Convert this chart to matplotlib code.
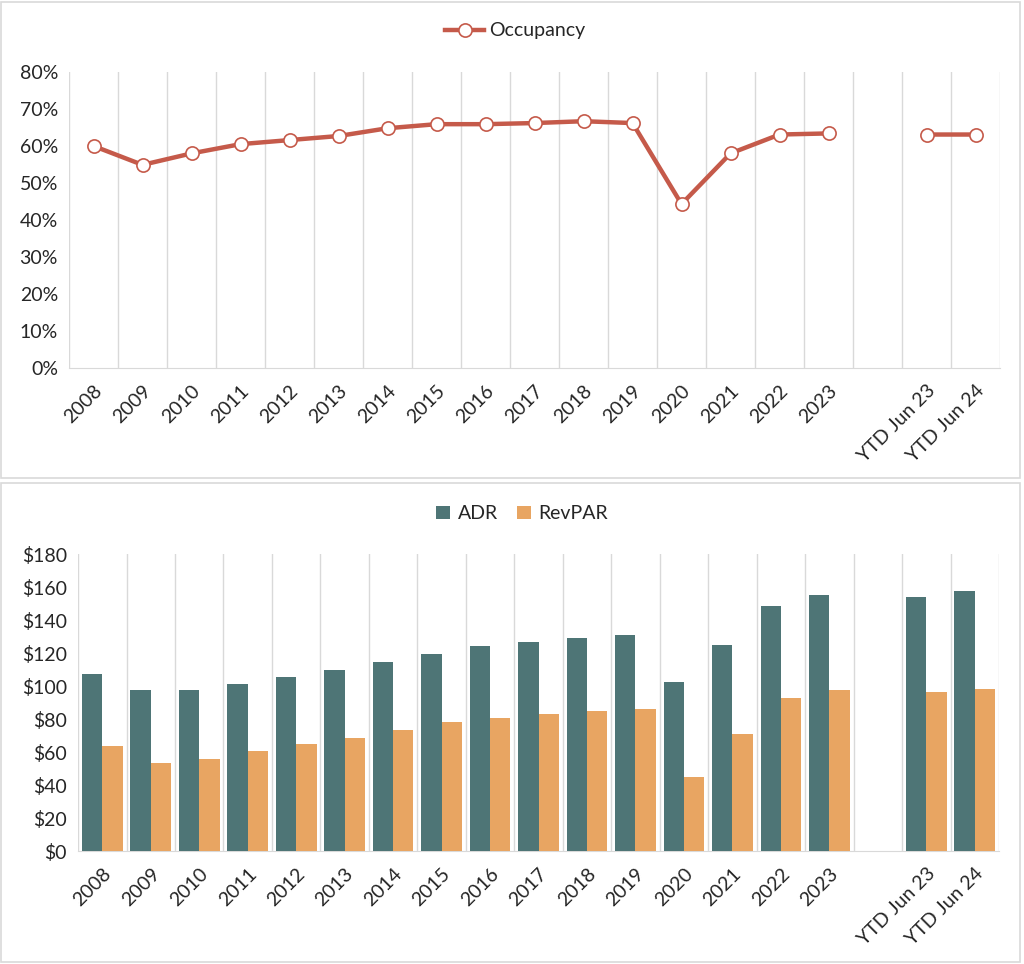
import matplotlib.pyplot as plt
import matplotlib.patches as mpatches
import numpy as np
from matplotlib.ticker import FuncFormatter, MultipleLocator, FixedLocator

plt.rcParams['font.family'] = ['Lato', 'DejaVu Sans']

# categories (blank slot between 2023 and the YTD columns)
labels = ['2008', '2009', '2010', '2011', '2012', '2013', '2014', '2015', '2016',
          '2017', '2018', '2019', '2020', '2021', '2022', '2023', '',
          'YTD Jun 23', 'YTD Jun 24']

occupancy = [60.0, 54.9, 58.0, 60.5, 61.6, 62.7, 64.8, 65.9, 65.9,
             66.2, 66.7, 66.2, 44.3, 58.0, 63.1, 63.4, np.nan,
             63.1, 63.1]

adr = [107.2, 97.5, 97.5, 101.1, 105.4, 109.8, 114.3, 119.5, 124.0,
       126.4, 129.2, 130.8, 102.5, 124.8, 148.6, 154.9, np.nan,
       153.9, 157.3]

revpar = [63.9, 53.4, 56.0, 60.5, 64.7, 68.4, 73.6, 77.9, 80.7,
          83.1, 85.1, 85.9, 44.7, 71.0, 92.8, 97.3, np.nan,
          96.5, 98.3]

line_color = '#C55A4A'
adr_color = '#4E7576'
rev_color = '#E8A562'
grid_color = '#D9D9D9'
text_color = '#262626'

fig = plt.figure(figsize=(10.24, 9.64), dpi=100)

# panel borders
for y0, h in [(0.504, 0.494), (0.002, 0.497)]:
    fig.patches.append(mpatches.Rectangle((0.001, y0), 0.995, h, transform=fig.transFigure,
                                          fill=False, edgecolor=grid_color, linewidth=1.2))

x = np.arange(len(labels))


def style_axis(ax):
    ax.set_xlim(-0.5, len(labels) - 0.5)
    ax.xaxis.set_major_locator(FixedLocator(x))
    ax.xaxis.set_minor_locator(FixedLocator(np.arange(-0.5, len(labels), 1.0)))
    ax.grid(which='minor', axis='x', color=grid_color, linewidth=1)
    ax.set_xticklabels(labels, rotation=45, ha='right', rotation_mode='anchor',
                       fontsize=14, color=text_color)
    ax.tick_params(axis='x', which='both', length=0, pad=10)
    ax.tick_params(axis='y', length=0, labelsize=14, labelcolor=text_color, pad=8)
    for s in ['top', 'left', 'right']:
        ax.spines[s].set_visible(False)
    ax.spines['bottom'].set_color(grid_color)
    ax.set_axisbelow(True)


# top: occupancy
ax1 = fig.add_axes([0.0674, 0.6183, 0.9092, 0.307])
ax1.plot(x, occupancy, color=line_color, linewidth=3.2, marker='o', markersize=9.5,
         markerfacecolor='white', markeredgecolor=line_color, markeredgewidth=1.2,
         label='Occupancy', zorder=3)
ax1.set_ylim(0, 80)
ax1.yaxis.set_major_locator(MultipleLocator(10))
ax1.yaxis.set_major_formatter(FuncFormatter(lambda v, p: f'{v:.0f}%'))
style_axis(ax1)
leg1 = ax1.legend(loc='center', frameon=False, fontsize=14, handlelength=2.0,
                  handletextpad=0.25, labelcolor=text_color)
leg1.set_bbox_to_anchor((0.503, 0.968), transform=fig.transFigure)

# bottom: ADR / RevPAR
ax2 = fig.add_axes([0.0762, 0.1172, 0.8994, 0.3081])
w = 0.42
ax2.bar(x - w / 2, adr, width=w, color=adr_color, label='ADR', zorder=3)
ax2.bar(x + w / 2, revpar, width=w, color=rev_color, label='RevPAR', zorder=3)
ax2.set_ylim(0, 180)
ax2.yaxis.set_major_locator(MultipleLocator(20))
ax2.yaxis.set_major_formatter(FuncFormatter(lambda v, p: f'${v:.0f}'))
style_axis(ax2)
leg = ax2.legend(loc='center', ncol=2, frameon=False, fontsize=14, handlelength=0.7,
                 handleheight=0.7, columnspacing=1.0, handletextpad=0.4, labelcolor=text_color)
leg.set_bbox_to_anchor((0.51, 0.467), transform=fig.transFigure)

fig.savefig('out.png', dpi=100, facecolor='white')
